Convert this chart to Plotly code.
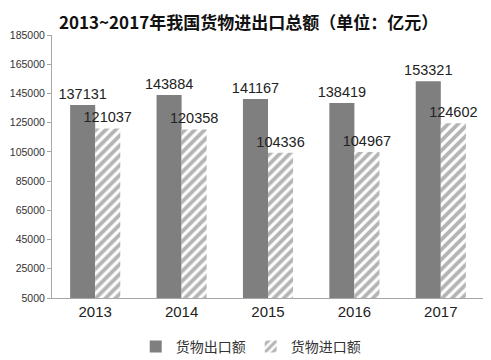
import plotly.graph_objects as go

years = ["2013", "2014", "2015", "2016", "2017"]
exports = [137131, 143884, 141167, 138419, 153321]
imports = [121037, 120358, 104336, 104967, 124602]
y_ticks = [5000, 25000, 45000, 65000, 85000, 105000, 125000, 145000, 165000, 185000]

cjk = "Noto Sans CJK SC, sans-serif"
latin = "Liberation Sans, Arial, sans-serif"

fig = go.Figure()
fig.add_trace(go.Bar(
    x=years, y=exports, name="货物出口额",
    marker=dict(color="#7f7f7f", line=dict(width=0)),
    text=[str(v) for v in exports], textposition="outside", constraintext="none",
    textfont=dict(size=14.5, color="#222222", family=latin), cliponaxis=False,
))
fig.add_trace(go.Bar(
    x=years, y=imports, name="货物进口额",
    marker=dict(color="white", line=dict(width=0),
                pattern=dict(shape="/", fgcolor="#6a6a6a", bgcolor="white", size=7, solidity=0.55)),
    text=[str(v) for v in imports], textposition="outside", constraintext="none",
    textfont=dict(size=14.5, color="#222222", family=latin), cliponaxis=False,
))

# page body adds a small offset; margins compensate so the visible layout matches
fig.update_layout(
    width=491, height=360,
    margin=dict(l=44, r=15, t=27, b=70, autoexpand=False),
    paper_bgcolor="white", plot_bgcolor="white",
    font=dict(family=cjk, color="#333333"),
    title=dict(text="<b>2013~2017年我国货物进出口总额（单位：亿元）</b>",
               x=0.49, xanchor="center", y=0.958, yanchor="middle",
               font=dict(size=17, color="#111111", family=cjk)),
    barmode="group", bargap=0.42, bargroupgap=0,
    showlegend=True,
    legend=dict(orientation="h", x=0.46, xanchor="center", y=-0.125, yanchor="top",
                font=dict(size=14, color="#333333", family=cjk), itemwidth=30,
                tracegroupgap=0),
)
fig.update_xaxes(
    showline=True, linecolor="#a6a6a6", linewidth=1, automargin=False,
    ticks="outside", ticklen=0, tickfont=dict(size=15, color="#222222", family=latin),
    showgrid=False,
)
fig.update_yaxes(
    range=[5000, 185000], tickvals=y_ticks, ticktext=[str(v) for v in y_ticks],
    showline=True, linecolor="#a6a6a6", linewidth=1, automargin=False,
    ticks="outside", ticklen=4, tickcolor="#a6a6a6",
    tickfont=dict(size=10.5, color="#333333", family=latin),
    showgrid=False, zeroline=False,
)

fig.write_html("out.html")
